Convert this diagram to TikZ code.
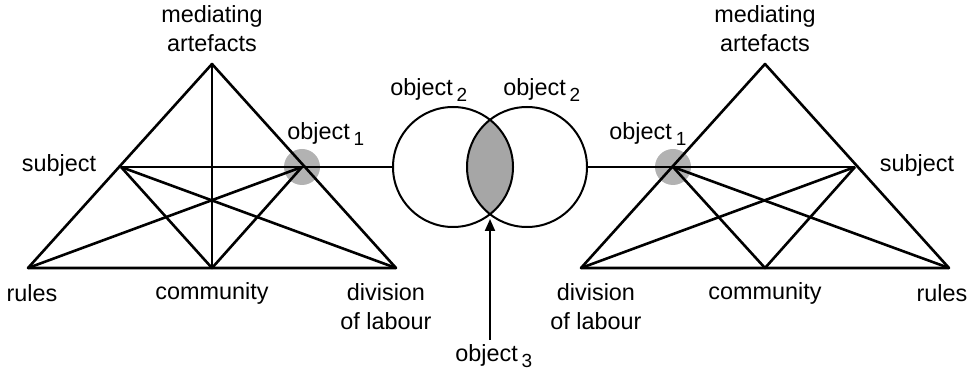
\documentclass[tikz,border=0pt]{standalone}
\usepackage{fontspec}
\setmainfont{Liberation Sans}
\usetikzlibrary{arrows.meta}
\begin{document}
\begin{tikzpicture}[x=0.5pt,y=-0.5pt,
  ln/.style={line width=1.3pt, line join=round},
  cl/.style={line width=1pt},
  lbl/.style={inner sep=0pt, font=\fontsize{11.7}{14.5}\selectfont, align=center},
  hub/.style={fill=black!30, draw=none},
  lens/.style={fill=black!35}]
\useasboundingbox (0,0) rectangle (974,373);
\newcommand{\objsub}[1]{object\,\raisebox{-0.45ex}{\fontsize{9.5}{10}\selectfont #1}}
% left triangle vertices
\coordinate (LA) at (212,64);
\coordinate (LR) at (28,268);
\coordinate (LD) at (396,268);
\coordinate (LS) at (121,167);
\coordinate (LO) at (302,167);
\coordinate (LC) at (212,268);
% right triangle vertices
\coordinate (RA) at (765,64);
\coordinate (RD) at (581,268);
\coordinate (RR) at (949,268);
\coordinate (RO) at (673,167);
\coordinate (RS) at (855,167);
\coordinate (RC) at (765,268);
% circles
\coordinate (C1) at (453,167);
\coordinate (C2) at (527,167);
\coordinate (W1) at (393,167);
\coordinate (E2) at (587,167);
\coordinate (X) at (490,219);
\coordinate (Xs) at (490,340);
% hubs
\fill[hub] (LO) circle (18);
\fill[hub] (RO) circle (18);
% lens
\begin{scope}
  \clip (C1) circle (60);
  \fill[lens] (C2) circle (60);
\end{scope}
\draw[cl] (C1) circle (60);
\draw[cl] (C2) circle (60);
% left triangle
\draw[ln] (LA) -- (LR) -- (LD) -- cycle;
\draw[ln] (LA) -- (LC);
\draw[ln] (LS) -- (LO);
\draw[ln] (LS) -- (LC) -- (LO);
\draw[ln] (LS) -- (LD);
\draw[ln] (LO) -- (LR);
% right triangle
\draw[ln] (RA) -- (RD) -- (RR) -- cycle;
\draw[ln] (RO) -- (RS);
\draw[ln] (RO) -- (RC) -- (RS);
\draw[ln] (RO) -- (RR);
\draw[ln] (RS) -- (RD);
% connectors
\draw[cl] (LO) -- (W1);
\draw[cl] (E2) -- (RO);
\draw[cl, -{Triangle[length=6pt, width=5pt]}] (Xs) -- (X);
% labels left
\node[lbl] (lmed) at (212,29) {mediating\\artefacts};
\node[lbl] (lsub) at (59,165) {subject};
\node[lbl, anchor=west] (lobj) at (287,134) {\objsub{1}};
\node[lbl] (lrul) at (32,293) {rules};
\node[lbl] (lcom) at (212,293) {community};
\node[lbl] (ldiv) at (386,307) {division\\of labour};
% labels right
\node[lbl] (rmed) at (765,29) {mediating\\artefacts};
\node[lbl, anchor=west] (robj) at (609,134) {\objsub{1}};
\node[lbl] (rsub) at (917,165) {subject};
\node[lbl] (rdiv) at (596,307) {division\\of labour};
\node[lbl] (rcom) at (765,293) {community};
\node[lbl] (rrul) at (942,293) {rules};
% object 2 and 3
\node[lbl, anchor=west] (o2a) at (390,90) {\objsub{2}};
\node[lbl, anchor=west] (o2b) at (503,90) {\objsub{2}};
\node[lbl, anchor=west] (o3) at (455,356) {\objsub{3}};
\end{tikzpicture}
\end{document}
